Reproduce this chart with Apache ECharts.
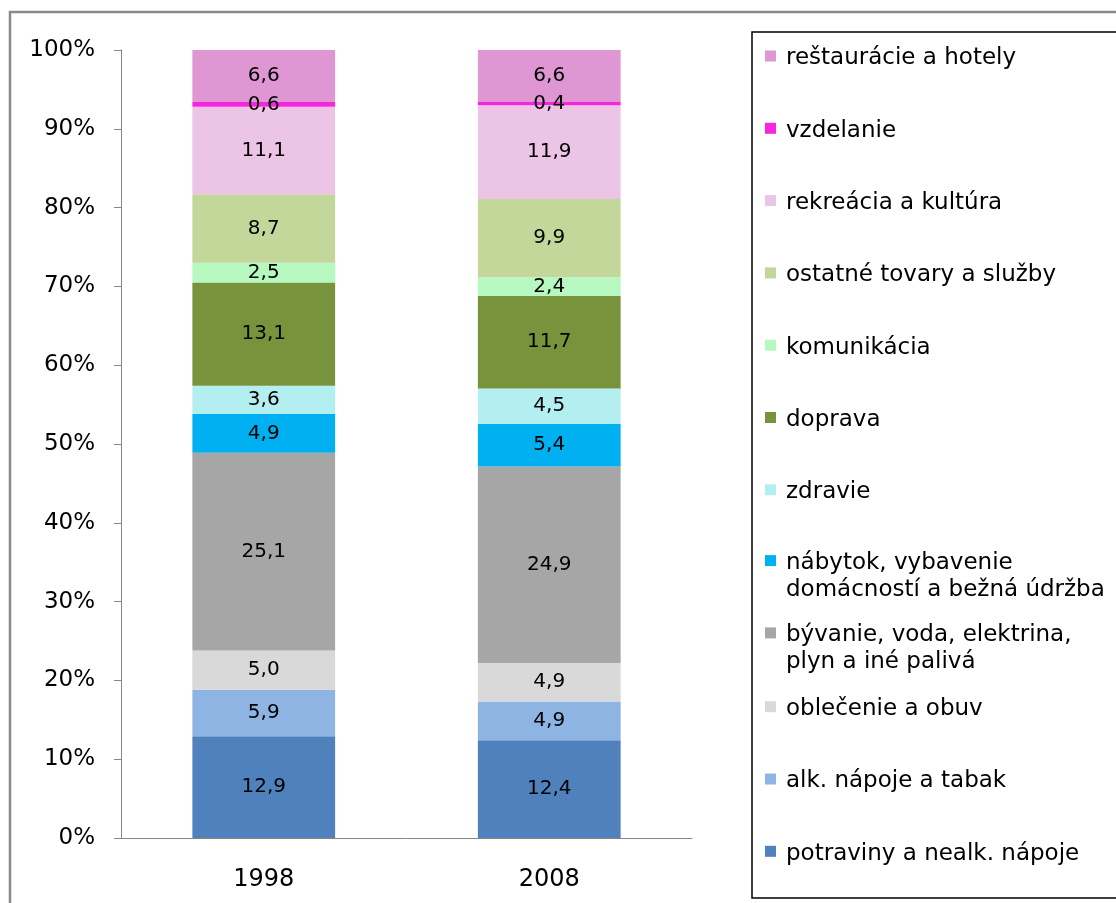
<!DOCTYPE html>
<html>
<head>
<meta charset="utf-8">
<script src="https://cdn.jsdelivr.net/npm/echarts@6/dist/echarts.min.js"></script>
<style>
html, body { margin: 0; padding: 0; background: #fff; }
#main { width: 1116px; height: 903px; }
</style>
</head>
<body>
<div id="main"></div>
<script>
var years = ['1998', '2008'];

// od spodu stĺpca nahor
var categories = [
    'potraviny a nealk. nápoje',
    'alk. nápoje a tabak',
    'oblečenie a obuv',
    'bývanie, voda, elektrina, plyn a iné palivá',
    'nábytok, vybavenie domácností a bežná údržba',
    'zdravie',
    'doprava',
    'komunikácia',
    'ostatné tovary a služby',
    'rekreácia a kultúra',
    'vzdelanie',
    'reštaurácie a hotely'
];
var legendLabels = [
    'potraviny a nealk. nápoje',
    'alk. nápoje a tabak',
    'oblečenie a obuv',
    'bývanie, voda, elektrina,\nplyn a iné palivá',
    'nábytok, vybavenie\ndomácností a bežná údržba',
    'zdravie',
    'doprava',
    'komunikácia',
    'ostatné tovary a služby',
    'rekreácia a kultúra',
    'vzdelanie',
    'reštaurácie a hotely'
];
var values1998 = [12.9, 5.9, 5.0, 25.1, 4.9, 3.6, 13.1, 2.5, 8.7, 11.1, 0.6, 6.6];
var values2008 = [12.4, 4.9, 4.9, 24.9, 5.4, 4.5, 11.7, 2.4, 9.9, 11.9, 0.4, 6.6];
var colors = ['#4F81BD', '#8EB4E3', '#D9D9D9', '#A6A6A6', '#00B0F0', '#B3EEF0',
              '#77933C', '#B6F8C0', '#C4D79B', '#ECC4E6', '#F626DF', '#DE97D3'];

var font = 'DejaVu Sans';
var chartDom = document.getElementById('main');
var myChart = echarts.init(chartDom);

// 100 % skladaný graf - podiely prepočítané na súčet stĺpca
function sum(a) { return a.reduce(function (s, v) { return s + v; }, 0); }
var total1998 = sum(values1998);
var total2008 = sum(values2008);

var series = categories.map(function (name, i) {
    return {
        name: name,
        type: 'bar',
        stack: 'total',
        barWidth: '50%',
        data: [
            { value: values1998[i] / total1998 * 100, raw: values1998[i] },
            { value: values2008[i] / total2008 * 100, raw: values2008[i] }
        ],
        itemStyle: { color: colors[i] },
        label: {
            show: true,
            position: 'inside',
            color: '#000',
            fontFamily: font,
            fontSize: 20,
            formatter: function (p) {
                return p.data.raw.toFixed(1).replace('.', ',');
            }
        }
    };
});

// legenda: každá položka zvlášť, zhora reštaurácie ... dole potraviny
var legends = categories.map(function (name, i) {
    var slot = categories.length - 1 - i;
    var c = 54.5 + slot * 72.3;
    var lines = legendLabels[i].split('\n');
    var twoLines = lines.length > 1;
    return {
        data: [name],
        left: 765,
        top: twoLines ? c - 29 : c - 14,
        padding: 0,
        icon: 'rect',
        itemWidth: 11,
        itemHeight: 11,
        selectedMode: false,
        formatter: function () {
            return '{s| }\n' + lines.map(function (l) { return '{t|' + l + '}'; }).join('\n');
        },
        textStyle: {
            rich: {
                s: { fontSize: 4, lineHeight: twoLines ? 32 : 5 },
                t: { fontFamily: font, fontSize: 23, lineHeight: 27, color: '#000', padding: [0, 0, 0, 5] }
            }
        }
    };
});

var option = {
    animation: false,
    color: colors,
    grid: { left: 121, top: 50, right: 424, bottom: 65 },
    graphic: [
        {
            type: 'rect',
            shape: { x: 10, y: 12, width: 1200, height: 1000 },
            style: { fill: 'none', stroke: '#8a8a8a', lineWidth: 2.5 }
        },
        {
            type: 'rect',
            shape: { x: 752, y: 32, width: 500, height: 866 },
            style: { fill: 'none', stroke: '#000', lineWidth: 1.5 }
        }
    ],
    legend: legends,
    xAxis: {
        type: 'category',
        data: years,
        axisLine: { lineStyle: { color: '#868686', width: 1 } },
        axisTick: { length: 8, lineStyle: { color: '#868686' } },
        axisLabel: { color: '#000', fontFamily: font, fontSize: 24, margin: 30 }
    },
    yAxis: {
        type: 'value',
        min: 0,
        max: 100,
        interval: 10,
        splitLine: { show: false },
        axisLine: { show: true, lineStyle: { color: '#868686', width: 1 } },
        axisTick: { show: true, length: 7, lineStyle: { color: '#868686' } },
        axisLabel: { color: '#000', fontFamily: font, fontSize: 23, margin: 26, formatter: '{value}%' }
    },
    series: series
};

option && myChart.setOption(option);
</script>
</body>
</html>
